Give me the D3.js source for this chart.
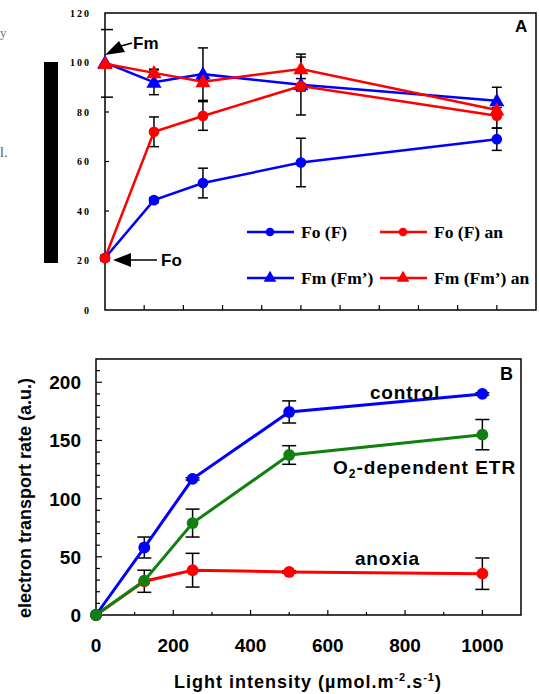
<!DOCTYPE html>
<html><head><meta charset="utf-8">
<script src="https://cdn.jsdelivr.net/npm/d3@7"></script>
<style>body{margin:0;background:#fff}svg{display:block}</style>
</head><body>
<script>
// ---- Data ----
const lightA = [0, 125, 250, 500, 1000];
const foF = [21, 44.4, 51.3, 59.6, 69];
const foFErr = [1, 1, 6, 9.8, 4.5];
const foFan = [21, 72, 78.4, 90.5, 78.5];
const foFanErr = [1, 6, 5.8, 11.7, 5];
const fmFm = [100, 92, 95.3, 91, 84.5];
const fmFmErr = [0, 5, 10.6, 2.5, 5.5];
const fmFman = [99.5, 95.8, 92.2, 97.4, 80.8];
const fmFmanErr = [0, 1.5, 1, 6, 1];
const yTicksA = [0, 20, 40, 60, 80, 100, 120];

const lightB = [0, 125, 250, 500, 1000];
const control = [0, 58, 117, 174.5, 190];
const controlErr = [0, 9, 1, 9.5, 1];
const o2dep = [0, 29.5, 79, 137.5, 155];
const o2depErr = [0, 0, 12, 8, 13];
const anoxia = [0, 29, 38.5, 37, 35.5];
const anoxiaErr = [0, 9.5, 14.5, 1, 13.5];
const yTicksB = [0, 50, 100, 150, 200];
const xTicksB = [0, 200, 400, 600, 800, 1000];

const W = 539, H = 694;
const svg = d3.select("body").append("svg").attr("width", W).attr("height", H);

// stray page fragments
svg.append("text").attr("x", 0).attr("y", 37).attr("font-family", "Liberation Serif").attr("font-size", 13).attr("fill", "#777").text("y");
svg.append("text").attr("x", 0).attr("y", 157).attr("font-family", "Liberation Serif").attr("font-size", 14).attr("fill", "#555").text("l.");
svg.append("rect").attr("x", 44).attr("y", 62).attr("width", 14).attr("height", 201).attr("fill", "#000");

// ---------- Panel A ----------
const xA = d3.scaleLinear().domain([0, 1100]).range([105, 536]);
const yA = d3.scaleLinear().domain([0, 120]).range([310, 13]);
const gA = svg.append("g");
gA.append("rect").attr("x", 105).attr("y", 13).attr("width", 431).attr("height", 297)
  .attr("fill", "none").attr("stroke", "#000").attr("stroke-width", 1.5);
gA.selectAll(".xt").data(d3.range(100, 1100, 100)).join("line")
  .attr("x1", d => xA(d)).attr("x2", d => xA(d)).attr("y1", 310).attr("y2", 305)
  .attr("stroke", "#000").attr("stroke-width", 1.2);
gA.selectAll(".yt").data(yTicksA.slice(1, 6)).join("line")
  .attr("x1", 105).attr("x2", 109).attr("y1", d => yA(d)).attr("y2", d => yA(d))
  .attr("stroke", "#000").attr("stroke-width", 1.2);
gA.selectAll(".yt2").data([113.3, 86]).join("line")
  .attr("x1", 101).attr("x2", 113).attr("y1", d => yA(d)).attr("y2", d => yA(d))
  .attr("stroke", "#000").attr("stroke-width", 1.5);
gA.selectAll(".yl").data(yTicksA).join("text")
  .attr("x", 91).attr("y", d => yA(d) + 3.5).attr("text-anchor", "end")
  .attr("font-family", "Liberation Serif").attr("font-weight", "bold").attr("font-size", 10)
  .attr("letter-spacing", 2).text(d => d);

function errBars(g, xs, ys, es, x, y, cap) {
  xs.forEach((xv, i) => {
    if (!es[i]) return;
    const cx = x(xv), y1 = y(ys[i] + es[i]), y2 = y(ys[i] - es[i]);
    g.append("line").attr("x1", cx).attr("x2", cx).attr("y1", y1).attr("y2", y2).attr("stroke", "#000").attr("stroke-width", 1.5);
    [y1, y2].forEach(yy => g.append("line").attr("x1", cx - cap).attr("x2", cx + cap).attr("y1", yy).attr("y2", yy).attr("stroke", "#000").attr("stroke-width", 1.5));
  });
}
function series(g, xs, ys, x, y, color, shape, size, lw) {
  const line = d3.line().x((d, i) => x(xs[i])).y(d => y(d));
  g.append("path").datum(ys).attr("d", line).attr("fill", "none").attr("stroke", color).attr("stroke-width", lw);
  const sym = d3.symbol().type(shape === "tri" ? d3.symbolTriangle : d3.symbolCircle).size(size);
  g.selectAll(null).data(ys).join("path")
    .attr("transform", (d, i) => `translate(${x(xs[i])},${y(d) + (shape === "tri" ? 1 : 0)})`)
    .attr("d", sym).attr("fill", color);
}
errBars(gA, lightA, foF, foFErr, xA, yA, 5);
errBars(gA, lightA, foFan, foFanErr, xA, yA, 5);
errBars(gA, lightA, fmFm, fmFmErr, xA, yA, 5);
errBars(gA, lightA, fmFman, fmFmanErr, xA, yA, 5);
series(gA, lightA, foF, xA, yA, "#0000ff", "circle", 90, 2.5);
series(gA, lightA, fmFm, xA, yA, "#0000ff", "tri", 100, 2.5);
series(gA, lightA, foFan, xA, yA, "#ff0000", "circle", 90, 2.5);
series(gA, lightA, fmFman, xA, yA, "#ff0000", "tri", 100, 2.5);

// annotations
gA.append("path").attr("d", "M105,55 L119,41 L125,52 Z").attr("fill", "#000");
gA.append("line").attr("x1", 121).attr("x2", 132).attr("y1", 46).attr("y2", 43).attr("stroke", "#000").attr("stroke-width", 1.5);
gA.append("text").attr("x", 133).attr("y", 49).attr("font-family", "Liberation Sans").attr("font-weight", "bold").attr("font-size", 17).text("Fm");
gA.append("path").attr("d", "M113,260 L131,253 L131,267 Z").attr("fill", "#000");
gA.append("line").attr("x1", 130).attr("x2", 157).attr("y1", 260).attr("y2", 260).attr("stroke", "#000").attr("stroke-width", 1.5);
gA.append("text").attr("x", 161).attr("y", 266).attr("font-family", "Liberation Sans").attr("font-weight", "bold").attr("font-size", 17).text("Fo");
gA.append("text").attr("x", 515).attr("y", 32).attr("font-family", "Liberation Sans").attr("font-weight", "bold").attr("font-size", 17).text("A");

// legend
const legend = [
  {x: 247, y: 232, c: "#0000ff", s: "circle", t: "Fo (F)"},
  {x: 380, y: 232, c: "#ff0000", s: "circle", t: "Fo (F) an"},
  {x: 247, y: 278, c: "#0000ff", s: "tri", t: "Fm (Fm\u2019)"},
  {x: 380, y: 278, c: "#ff0000", s: "tri", t: "Fm (Fm\u2019) an"}
];
legend.forEach(l => {
  gA.append("line").attr("x1", l.x).attr("x2", l.x + 47).attr("y1", l.y).attr("y2", l.y).attr("stroke", l.c).attr("stroke-width", 2.5);
  gA.append("path").attr("transform", `translate(${l.x + 23},${l.y})`)
    .attr("d", d3.symbol().type(l.s === "tri" ? d3.symbolTriangle : d3.symbolCircle).size(l.s === "tri" ? 70 : 60)).attr("fill", l.c);
  gA.append("text").attr("x", l.x + 54).attr("y", l.y + 6).attr("font-family", "Liberation Serif").attr("font-weight", "bold").attr("font-size", 17.5).text(l.t);
});

// ---------- Panel B ----------
const xB = d3.scaleLinear().domain([0, 1100]).range([96, 521]);
const yB = d3.scaleLinear().domain([0, 220]).range([615, 359]);
const gB = svg.append("g");
gB.append("rect").attr("x", 96).attr("y", 359).attr("width", 425).attr("height", 256)
  .attr("fill", "none").attr("stroke", "#000").attr("stroke-width", 1.5);
gB.selectAll(".yt").data(d3.range(10, 220, 10)).join("line")
  .attr("x1", 96).attr("x2", d => d % 50 === 0 ? 102 : 100).attr("y1", d => yB(d)).attr("y2", d => yB(d))
  .attr("stroke", "#000").attr("stroke-width", 1.2);
gB.selectAll(".xt").data(d3.range(100, 1100, 100)).join("line")
  .attr("x1", d => xB(d)).attr("x2", d => xB(d)).attr("y1", 615).attr("y2", d => d % 200 === 0 ? 610 : 612)
  .attr("stroke", "#000").attr("stroke-width", 1.2);
gB.selectAll(".yl").data(yTicksB).join("text")
  .attr("x", 81).attr("y", d => yB(d) + 7).attr("text-anchor", "end")
  .attr("font-family", "Liberation Sans").attr("font-weight", "bold").attr("font-size", 19).text(d => d);
gB.selectAll(".xl").data(xTicksB).join("text")
  .attr("x", d => xB(d)).attr("y", 652).attr("text-anchor", "middle")
  .attr("font-family", "Liberation Sans").attr("font-weight", "bold").attr("font-size", 19).text(d => d);

errBars(gB, lightB, control, controlErr, xB, yB, 7);
errBars(gB, lightB, o2dep, o2depErr, xB, yB, 7);
errBars(gB, lightB, anoxia, anoxiaErr, xB, yB, 7);
series(gB, lightB, anoxia, xB, yB, "#ff0000", "circle", 110, 3);
series(gB, lightB, control, xB, yB, "#0000ff", "circle", 110, 3);
series(gB, lightB, o2dep, xB, yB, "#108010", "circle", 110, 3);

gB.append("text").attr("x", 500).attr("y", 380).attr("font-family", "Liberation Sans").attr("font-weight", "bold").attr("font-size", 18).text("B");
gB.append("text").attr("x", 370).attr("y", 399).attr("font-family", "Liberation Sans").attr("font-weight", "bold").attr("font-size", 19).attr("letter-spacing", 0.8).text("control");
const o2 = gB.append("text").attr("x", 333).attr("y", 474).attr("font-family", "Liberation Sans").attr("font-weight", "bold").attr("font-size", 19).attr("letter-spacing", 1);
o2.append("tspan").text("O");
o2.append("tspan").attr("font-size", 12).attr("dy", 4).text("2");
o2.append("tspan").attr("dy", -4).text("-dependent ETR");
gB.append("text").attr("x", 355).attr("y", 565).attr("font-family", "Liberation Sans").attr("font-weight", "bold").attr("font-size", 19).attr("letter-spacing", 0.8).text("anoxia");

svg.append("text").attr("transform", "translate(31,498) rotate(-90)").attr("text-anchor", "middle")
  .attr("font-family", "Liberation Sans").attr("font-weight", "bold").attr("font-size", 18).text("electron transport rate (a.u.)");
const xt = svg.append("text").attr("x", 308).attr("y", 688).attr("text-anchor", "middle")
  .attr("font-family", "Liberation Sans").attr("font-weight", "bold").attr("font-size", 18).attr("letter-spacing", 1);
xt.append("tspan").text("Light intensity (\u00b5mol.m");
xt.append("tspan").attr("font-size", 11).attr("dy", -7).text("-2");
xt.append("tspan").attr("dy", 7).text(".s");
xt.append("tspan").attr("font-size", 11).attr("dy", -7).text("-1");
xt.append("tspan").attr("dy", 7).text(")");
</script>
</body></html>
